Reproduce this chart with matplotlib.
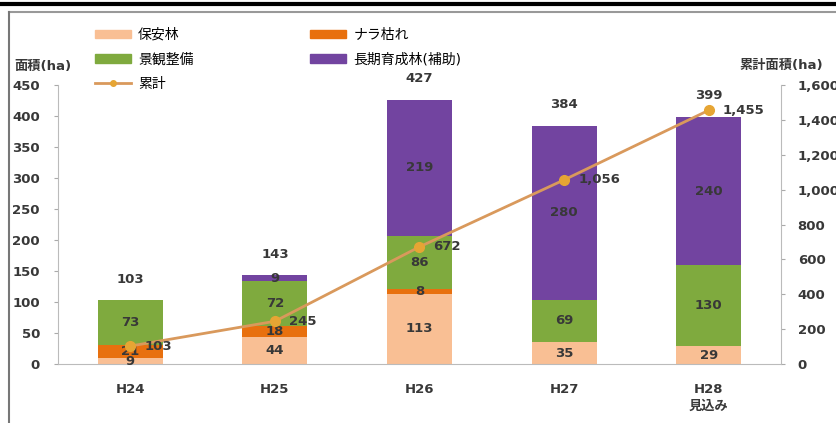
import matplotlib
matplotlib.use("Agg")
import matplotlib.pyplot as plt
from matplotlib.patches import Patch
from matplotlib.lines import Line2D
import numpy as np

plt.rcParams['font.family'] = ['DejaVu Sans', 'Noto Sans CJK JP']

categories = ["H24", "H25", "H26", "H27", "H28\n見込み"]
hoanrin = [9, 44, 113, 35, 29]
nara = [21, 18, 8, 0, 0]
keikan = [73, 72, 86, 69, 130]
choki = [0, 9, 219, 280, 240]
totals = [103, 143, 427, 384, 399]
cumulative = [103, 245, 672, 1056, 1455]
cum_labels = ["103", "245", "672", "1,056", "1,455"]

series_names = ["保安林", "ナラ枯れ", "景観整備", "長期育成林(補助)"]
colors = ["#F9BF94", "#E8700E", "#7FAA3E", "#7244A0"]
line_color = "#D9995C"
marker_color = "#E6A534"
text_color = "#383838"
fs = 9.5

fig = plt.figure(figsize=(8.36, 4.23), dpi=100)
ax = fig.add_axes([58/836, 1-364/423, (781-58)/836, (364-85)/423])
ax2 = ax.twinx()

x = np.arange(len(categories))
bottom = np.zeros(len(categories))
data = [hoanrin, nara, keikan, choki]
for vals, c, name in zip(data, colors, series_names):
    vals = np.array(vals, dtype=float)
    ax.bar(x, vals, bottom=bottom, width=0.45, color=c, label=name, zorder=2)
    for xi, v, b in zip(x, vals, bottom):
        if v > 0:
            ax.text(xi, b + v/2, f"{int(v)}", ha="center", va="center",
                    fontsize=fs, fontweight="bold", color=text_color, zorder=5)
    bottom += vals

for xi, t in zip(x, totals):
    ax.annotate(f"{t}", (xi, t), xytext=(0, 21), textcoords="offset pixels",
                ha="center", va="center", fontsize=fs, fontweight="bold",
                color=text_color)

ax.set_xlim(-0.5, 4.5)
ax.set_ylim(0, 450)
ax.set_yticks(range(0, 451, 50))
ax.set_xticks(x)
ax.set_xticklabels(categories, fontsize=fs, fontweight="bold", color=text_color,
                   linespacing=1.3)
ax.tick_params(axis="x", length=0, pad=14)
ax.tick_params(axis="y", length=3, color="#aaaaaa", labelsize=fs, pad=10,
               labelcolor=text_color)
for lbl in ax.get_yticklabels():
    lbl.set_fontweight("bold")

ax2.plot(x, cumulative, color=line_color, lw=2, marker="o", markersize=7,
         markerfacecolor=marker_color, markeredgecolor=marker_color, zorder=6)
for xi, v, s in zip(x, cumulative, cum_labels):
    ax2.annotate(s, (xi, v), xytext=(14, 0), textcoords="offset pixels",
                 ha="left", va="center", fontsize=fs, fontweight="bold",
                 color=text_color, zorder=7)
ax2.set_ylim(0, 1600)
ax2.set_yticks(range(0, 1601, 200))
ax2.set_yticklabels([f"{v:,}" for v in range(0, 1601, 200)], fontsize=fs,
                    fontweight="bold", color=text_color)
ax2.tick_params(axis="y", length=3, color="#aaaaaa", pad=9)

ax2.set_zorder(ax.get_zorder() + 1)
ax2.patch.set_visible(False)

for a in (ax, ax2):
    a.spines["top"].set_visible(False)
    for s in ("left", "right", "bottom"):
        a.spines[s].set_color("#BBBBBB")
ax.spines["right"].set_visible(False)
ax2.spines["left"].set_visible(False)
ax2.spines["bottom"].set_visible(False)

fig.text(14/836, 1-66/423, "面積(ha)", fontsize=fs, fontweight="bold",
         color=text_color, va="center", ha="left")
fig.text(739/836, 1-65/423, "累計面積(ha)", fontsize=fs, fontweight="bold",
         color=text_color, va="center", ha="left")

handles = [Patch(color=colors[0]), Patch(color=colors[2]),
           Line2D([], [], color=line_color, lw=2, marker="o", markersize=4,
                  markerfacecolor=marker_color, markeredgecolor=marker_color),
           Patch(color=colors[1]), Patch(color=colors[3])]
labels = [series_names[0], series_names[2], "累計", series_names[1], series_names[3]]
fig.legend(handles, labels, ncol=2, loc="upper left",
           bbox_to_anchor=(88/836, 1-21/423), frameon=False, fontsize=10,
           handlelength=2.6, handleheight=0.55, columnspacing=8.4,
           labelspacing=0.75, handletextpad=0.5, borderpad=0)

# page framing lines
fig.add_artist(Line2D([0, 1], [1-4/423, 1-4/423], color="black", lw=3,
                      transform=fig.transFigure))
fig.add_artist(Line2D([9/836, 1], [1-12/423, 1-12/423], color="#999999", lw=1.5,
                      transform=fig.transFigure))
fig.add_artist(Line2D([9/836, 9/836], [0, 1-12/423], color="#777777", lw=1.5,
                      transform=fig.transFigure))

fig.savefig("out.png", dpi=100)
